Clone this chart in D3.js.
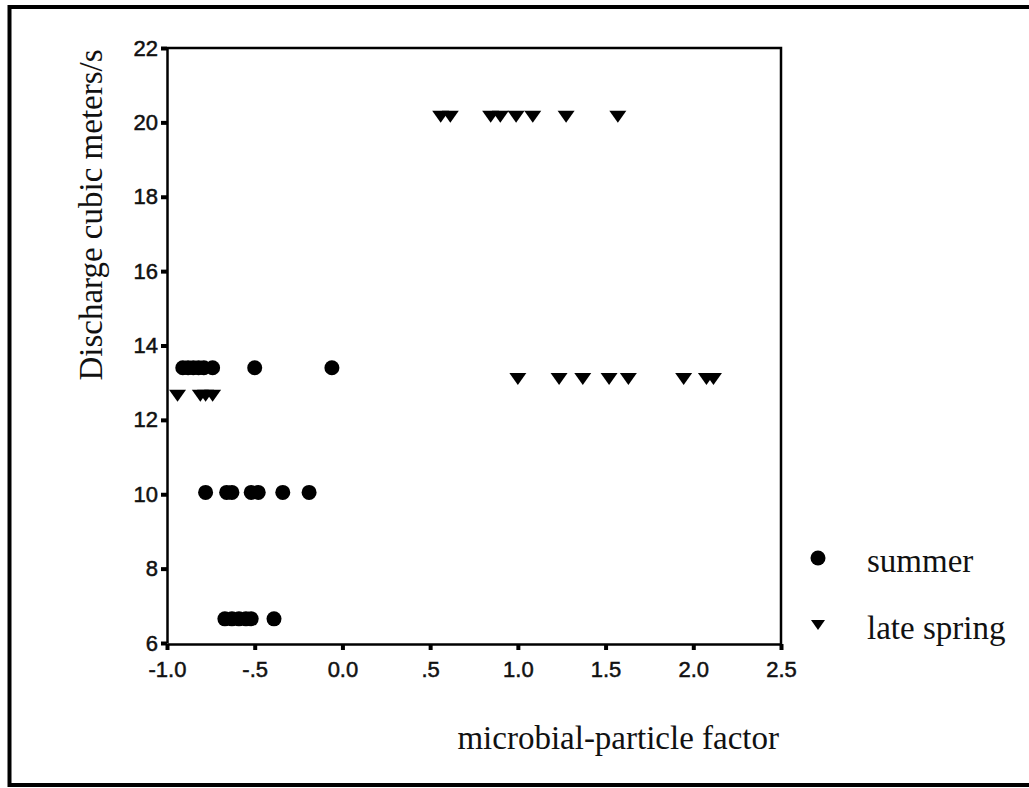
<!DOCTYPE html>
<html>
<head>
<meta charset="utf-8">
<script src="https://cdn.jsdelivr.net/npm/d3@7"></script>
<style>
    body { margin: 0; background: #ffffff; }
    .axis text { font-family: "Liberation Sans", Arial, sans-serif; font-size: 22px; fill: #111; stroke: #111; stroke-width: 0.5px; }
    .label { font-family: "Liberation Serif", "Times New Roman", serif; font-size: 33px; fill: #111; }
</style>
</head>
<body>
<div id="chart"></div>
<script>
// DATA

// summer (circles)
let summer_x = [-0.91, -0.88, -0.85, -0.82, -0.79, -0.74, -0.50, -0.06,
                -0.78, -0.66, -0.63, -0.52, -0.48, -0.34, -0.19,
                -0.67, -0.63, -0.59, -0.55, -0.52, -0.39];
let summer_y = [13.4, 13.4, 13.4, 13.4, 13.4, 13.4, 13.4, 13.4,
                10.05, 10.05, 10.05, 10.05, 10.05, 10.05, 10.05,
                6.65, 6.65, 6.65, 6.65, 6.65, 6.65];

// late spring (triangles)
let spring_x = [-0.94, -0.81, -0.78, -0.74,
                0.56, 0.615, 0.845, 0.90, 0.99, 1.085, 1.275, 1.57,
                1.0, 1.235, 1.37, 1.52, 1.63, 1.945, 2.075, 2.115];
let spring_y = [12.65, 12.65, 12.65, 12.65,
                20.15, 20.15, 20.15, 20.15, 20.15, 20.15, 20.15, 20.15,
                13.1, 13.1, 13.1, 13.1, 13.1, 13.1, 13.1, 13.1];

let x_ticks = [-1, -0.5, 0, 0.5, 1, 1.5, 2, 2.5];
let x_tick_labels = ["-1.0", "-.5", "0.0", ".5", "1.0", "1.5", "2.0", "2.5"];
let y_ticks = [6, 8, 10, 12, 14, 16, 18, 20, 22];

let legend_labels = ["summer", "late spring"];

let summer_data = summer_x.map((d, i) => ({x: d, y: summer_y[i]}));
let spring_data = spring_x.map((d, i) => ({x: d, y: spring_y[i]}));

// CHART AREA
let width = 1029, height = 788;
let plot = {left: 167, right: 781, top: 48, bottom: 643};

let svg = d3.select("#chart").append("svg")
    .attr("width", width)
    .attr("height", height);

// outer frame of the figure (runs off the right edge)
svg.append("rect")
    .attr("x", 9.5).attr("y", 7)
    .attr("width", 1040).attr("height", 778)
    .attr("fill", "none")
    .attr("stroke", "#000")
    .attr("stroke-width", 4);

// SCALES
let x_scale = d3.scaleLinear().domain([-1, 2.5]).range([plot.left, plot.right]);
let y_scale = d3.scaleLinear().domain([6, 22]).range([plot.bottom, plot.top]);

// AXIS
let xAxis = d3.axisBottom(x_scale)
    .tickValues(x_ticks)
    .tickFormat((d, i) => x_tick_labels[i])
    .tickSize(6).tickSizeOuter(0).tickPadding(11);

let yAxis = d3.axisLeft(y_scale)
    .tickValues(y_ticks)
    .tickSize(6).tickSizeOuter(0).tickPadding(3);

let xAxisGroup = svg.append("g")
    .attr("class", "x-axis axis")
    .attr("transform", "translate(0," + (plot.bottom + 1) + ")")
    .call(xAxis);

let yAxisGroup = svg.append("g")
    .attr("class", "y-axis axis")
    .attr("transform", "translate(" + plot.left + ",0)")
    .call(yAxis);

svg.selectAll(".axis .domain").attr("stroke", "#000").attr("stroke-width", 2.5);
svg.selectAll(".axis .tick line").attr("stroke", "#000").attr("stroke-width", 4);

// top and right frame of the plot
svg.append("path")
    .attr("d", "M" + plot.left + "," + plot.top + "H" + plot.right + "V" + (plot.bottom + 1))
    .attr("fill", "none")
    .attr("stroke", "#000")
    .attr("stroke-width", 2.5);

// AXIS TITLES
svg.append("text")
    .attr("class", "label")
    .attr("text-anchor", "middle")
    .attr("transform", "translate(102,215) rotate(-90)")
    .text("Discharge cubic meters/s");

svg.append("text")
    .attr("class", "label")
    .attr("text-anchor", "end")
    .attr("x", 779)
    .attr("y", 749)
    .text("microbial-particle factor");

// DRAWING THE POINTS
let triangle = (cx, cy, w, h) =>
    "M" + (cx - w / 2) + "," + (cy - h / 2) + "L" + (cx + w / 2) + "," + (cy - h / 2) + "L" + cx + "," + (cy + h / 2) + "Z";

svg.selectAll(".summer")
    .data(summer_data)
    .enter()
    .append("circle")
    .attr("class", "summer")
    .attr("cx", d => x_scale(d.x))
    .attr("cy", d => y_scale(d.y))
    .attr("r", 7.5)
    .attr("fill", "#000");

svg.selectAll(".spring")
    .data(spring_data)
    .enter()
    .append("path")
    .attr("class", "spring")
    .attr("d", d => triangle(x_scale(d.x), y_scale(d.y), 17, 12))
    .attr("fill", "#000");

// LEGEND
let legend = svg.append("g").attr("transform", "translate(818,558)");

legend.append("circle").attr("cx", 0).attr("cy", 0).attr("r", 7.5).attr("fill", "#000");
legend.append("path").attr("d", triangle(0, 67, 14, 10)).attr("fill", "#000");

legend.selectAll(".legend-text")
    .data(legend_labels)
    .enter()
    .append("text")
    .attr("class", "label legend-text")
    .attr("x", 49)
    .attr("y", (d, i) => 14 + i * 67)
    .text(d => d);
</script>
</body>
</html>
